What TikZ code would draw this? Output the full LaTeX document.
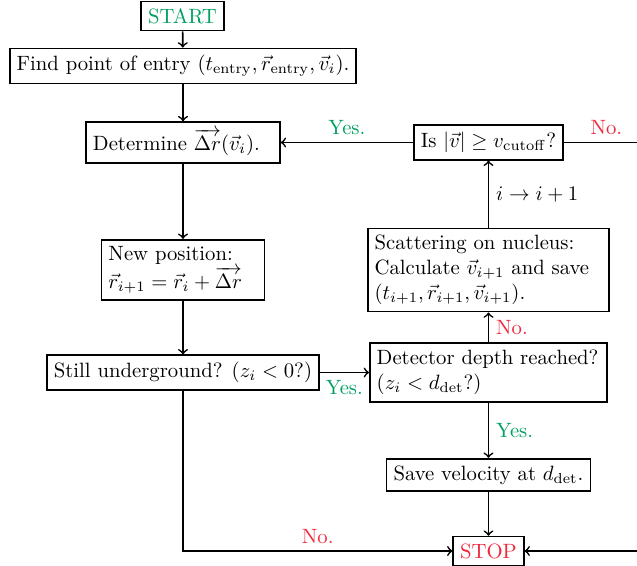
\documentclass[tikz,border=0pt]{standalone}
\usepackage{amsmath,amssymb}
\usepackage{xcolor}
\usepackage{tikz}
\definecolor{yesgreen}{RGB}{0,160,96}
\definecolor{nored}{RGB}{240,40,60}
\tikzset{
    box/.style={draw, thick, fill=white},
    flow/.style={->, thick},
    yes/.style={text=yesgreen},
    no/.style={text=nored}
}

\begin{document}
\begin{tikzpicture}[x=0.01698cm, y=-0.01698cm]
    \clip (0, 0) rectangle (637, 566);

    % Main chain on the left
    \node[box, text=yesgreen] (start) at (182.5, 16) {START};
    \node[box] (entry) at (183, 66) {Find point of entry $(t_{\mathrm{entry}}, \vec{r}_{\mathrm{entry}}, \vec{v}_i)$.};
    \node[box, text width=87pt, align=left] (step) at (183, 142.5) {Determine $\overrightarrow{\Delta r}(\vec{v}_i)$.};
    \node[box, text width=72pt, align=left] (newpos) at (183, 270) {New position:\\ $\vec{r}_{i+1} = \vec{r}_i + \overrightarrow{\Delta r}$};
    \node[box] (under) at (183, 372.5) {Still underground? $(z_i < 0?)$};

    % Right column
    \node[box] (cutoff) at (488.5, 142.5) {Is $|\vec{v}| \geq v_{\mathrm{cutoff}}$?};
    \node[box, text width=110pt, align=left] (scatter) at (488.5, 270) {Scattering on nucleus:\\ Calculate $\vec{v}_{i+1}$ and save\\ $(t_{i+1}, \vec{r}_{i+1}, \vec{v}_{i+1})$.};
    \node[box, text width=108pt, align=left] (depth) at (488.5, 372.5) {Detector depth reached?\\ $(z_i < d_{\mathrm{det}}?)$};
    \node[box] (save) at (488.5, 475) {Save velocity at $d_{\mathrm{det}}$.};
    \node[box, text=nored] (stop) at (488.5, 551) {STOP};

    % Corners of the loop leaving the picture on the right
    \coordinate (rtop) at (670, 142.5);
    \coordinate (rbot) at (670, 551);

    % Arrows down the left
    \draw[flow] (start) -- (entry);
    \draw[flow] (entry) -- (step);
    \draw[flow] (step) -- (newpos);
    \draw[flow] (newpos) -- (under);

    % Decisions
    \draw[flow] (under) -- (depth) node[midway, below, yes] {Yes.};
    \draw[flow] (under) |- (stop) node[pos=0.75, above, no] {No.};
    \draw[flow] (depth) -- (scatter) node[midway, right, no] {No.};
    \draw[flow] (depth) -- (save) node[midway, right, yes] {Yes.};
    \draw[flow] (save) -- (stop);
    \draw[flow] (scatter) -- (cutoff) node[midway, right] {$i \rightarrow i+1$};
    \draw[flow] (cutoff) -- (step) node[midway, above, yes] {Yes.};
    \draw[flow] (cutoff) -- (rtop) node[pos=0.4, above, no] {No.} -- (rbot) -- (stop);

\end{tikzpicture}
\end{document}
